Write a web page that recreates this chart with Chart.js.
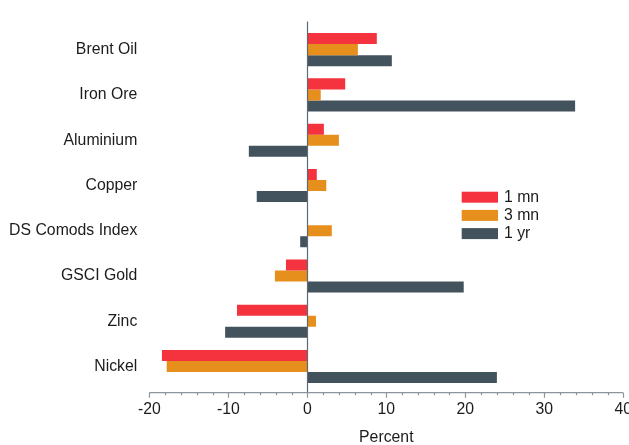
<!DOCTYPE html>
<html>
<head>
<meta charset="utf-8">
<script src="https://cdn.jsdelivr.net/npm/chart.js@4"></script>
<style>
  html, body { margin: 0; padding: 0; background: #fff; }
  #wrap { width: 629px; height: 445px; position: relative; }
</style>
</head>
<body>
<div id="wrap"><canvas id="c" width="629" height="445"></canvas></div>
<script>
const categories = ["Brent Oil", "Iron Ore", "Aluminium", "Copper", "DS Comods Index", "GSCI Gold", "Zinc", "Nickel"];
const oneMonth   = [8.8, 4.8, 2.1, 1.2, 0.0, -2.7, -8.9, -18.4];
const threeMonth = [6.4, 1.7, 4.0, 2.4, 3.1, -4.1, 1.1, -17.8];
const oneYear    = [10.7, 33.9, -7.4, -6.4, -0.9, 19.8, -10.4, 24.0];
const seriesNames = ["1 mn", "3 mn", "1 yr"];
const xTicks = [-20, -10, 0, 10, 20, 30, 40];

const FONT = "'Liberation Sans', Arial, sans-serif";
const FS = 15.8;
const TEXT = "#1c1c1c";

const axisPlugin = {
  id: 'axisPlugin',
  afterDatasetsDraw(chart) {
    const {ctx, chartArea, scales: {x}} = chart;
    const baseY = chartArea.bottom + 3.6;
    ctx.save();
    ctx.strokeStyle = '#5f6b73';
    ctx.lineWidth = 1.2;
    const x0 = Math.round(x.getPixelForValue(0)) + 0.5;
    ctx.beginPath();
    ctx.moveTo(x0, chartArea.top - 5.5);
    ctx.lineTo(x0, baseY);
    ctx.stroke();
    ctx.strokeStyle = '#8c959b';
    ctx.lineWidth = 1.2;
    const xl = x.getPixelForValue(x.min), xr = x.getPixelForValue(x.max);
    ctx.beginPath();
    ctx.moveTo(xl, baseY);
    ctx.lineTo(xr, baseY);
    for (let v = x.min; v <= x.max; v += 2) {
      const px = Math.round(x.getPixelForValue(v)) + 0.5;
      const len = (v % 10 === 0) ? 5 : 2.5;
      ctx.moveTo(px, baseY);
      ctx.lineTo(px, baseY + len);
    }
    ctx.stroke();
    ctx.restore();
  }
};

const legendPlugin = {
  id: 'boxLegend',
  afterDraw(chart) {
    const {ctx} = chart;
    ctx.save();
    ctx.font = FS + "px " + FONT;
    ctx.textBaseline = 'middle';
    ctx.textAlign = 'left';
    chart.data.datasets.forEach((ds, i) => {
      const y = 191.7 + i * 18.2;
      ctx.fillStyle = ds.backgroundColor;
      ctx.fillRect(461.7, y, 36.3, 11);
      ctx.fillStyle = TEXT;
      ctx.fillText(ds.label, 504, y + 5.5);
    });
    ctx.restore();
  }
};

const colors = ['#f5333f', '#e68f1c', '#43535d'];

new Chart(document.getElementById('c'), {
  type: 'bar',
  data: {
    labels: categories,
    datasets: [oneMonth, threeMonth, oneYear].map((d, i) => ({
      label: seriesNames[i],
      data: d,
      backgroundColor: colors[i],
      borderWidth: 0,
      categoryPercentage: 0.73,
      barPercentage: 1.0
    }))
  },
  options: {
    indexAxis: 'y',
    responsive: false,
    animation: false,
    devicePixelRatio: 1,
    layout: { padding: { left: 0, right: 0, top: 27, bottom: 0 } },
    plugins: { legend: { display: false }, tooltip: { enabled: false } },
    scales: {
      x: {
        min: -20, max: 40,
        afterBuildTicks(scale) { scale.ticks = xTicks.map(v => ({value: v})); },
        afterFit(scale) { scale.height = 445 - 389.1; scale.paddingRight = 5.7; scale.paddingLeft = 0; },
        grid: { display: false, drawTicks: false },
        border: { display: false },
        ticks: { color: TEXT, font: { family: FONT, size: FS }, padding: 11, maxRotation: 0 },
        title: { display: true, text: 'Percent', color: TEXT, font: { family: FONT, size: FS }, padding: { top: 0, bottom: -2 } }
      },
      y: {
        afterFit(scale) { scale.width = 149.3; },
        grid: { display: false, drawTicks: false },
        border: { display: false },
        ticks: { color: TEXT, font: { family: FONT, size: FS }, padding: 12 }
      }
    }
  },
  plugins: [axisPlugin, legendPlugin]
});
</script>
</body>
</html>
